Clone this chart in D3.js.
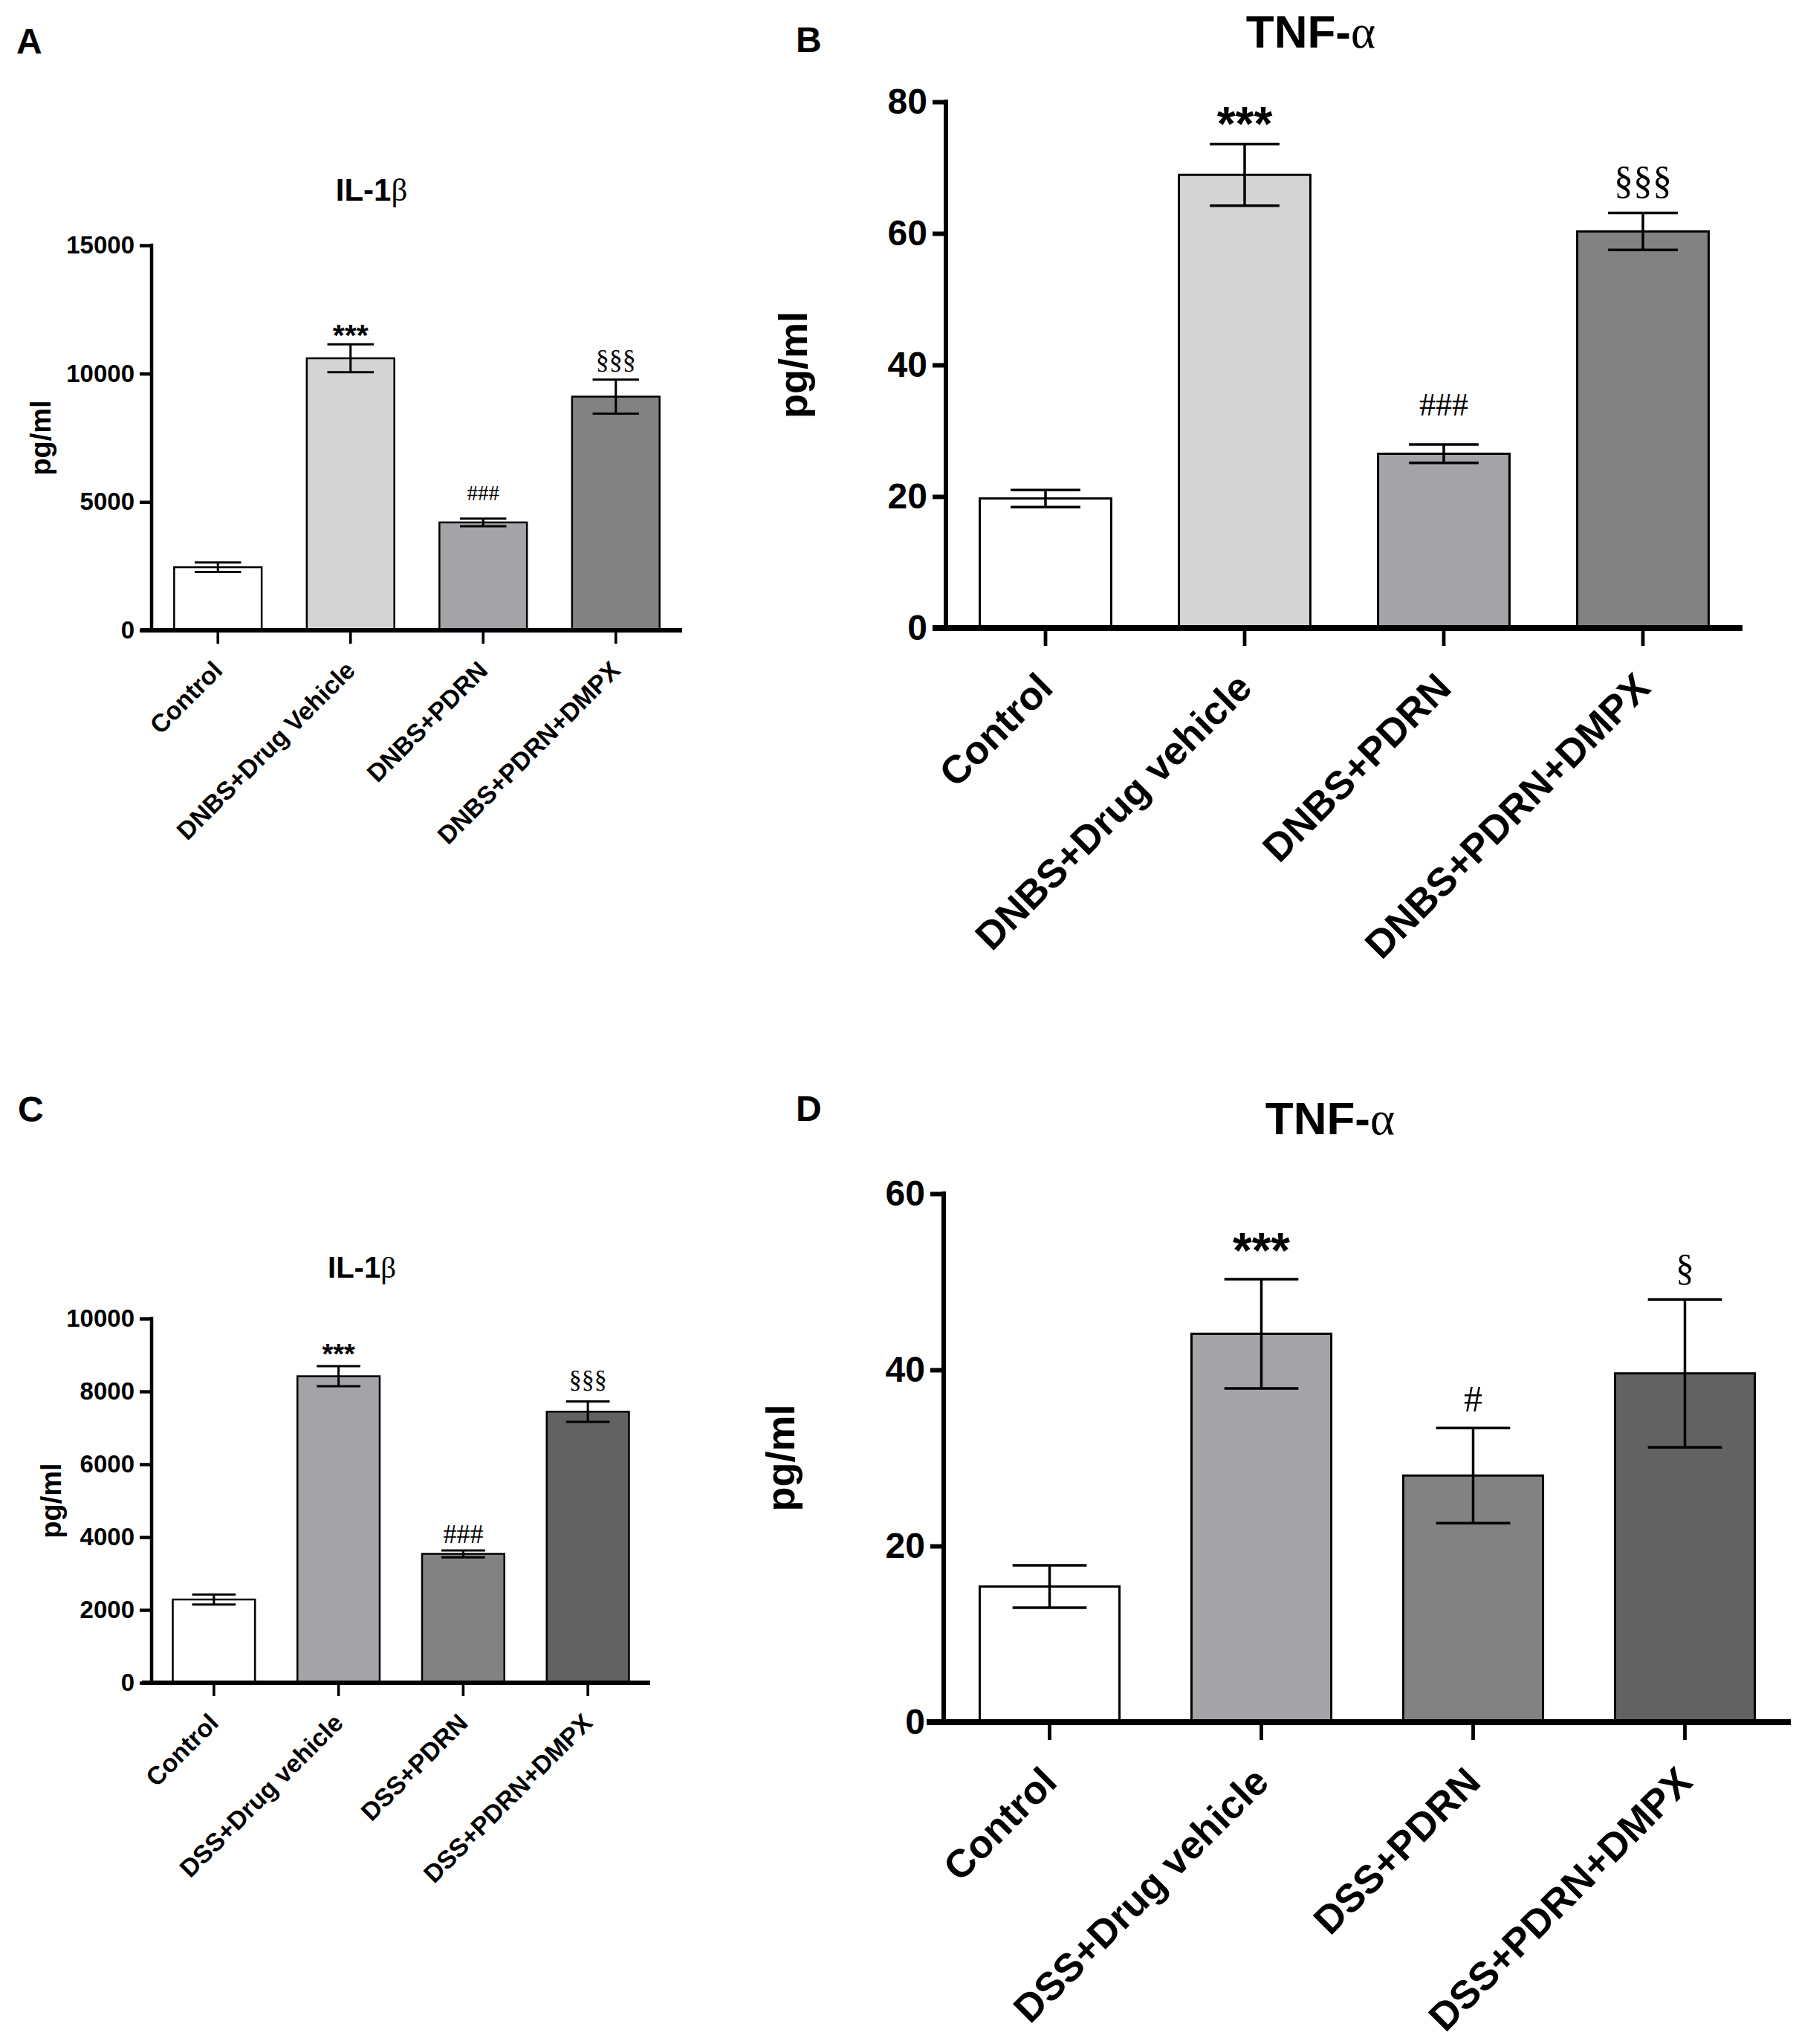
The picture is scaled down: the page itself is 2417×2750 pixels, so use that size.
<!DOCTYPE html>
<html>
<head>
<meta charset="utf-8">
<script src="https://cdn.jsdelivr.net/npm/d3@7"></script>
<style>
  html, body { margin: 0; padding: 0; background: #ffffff; }
  svg { display: block; }
</style>
</head>
<body>
<script>
// ---------------- DATA ----------------
const categoriesA = ["Control", "DNBS+Drug Vehicle", "DNBS+PDRN", "DNBS+PDRN+DMPX"];
const categoriesB = ["Control", "DNBS+Drug vehicle", "DNBS+PDRN", "DNBS+PDRN+DMPX"];
const categoriesC = ["Control", "DSS+Drug vehicle", "DSS+PDRN", "DSS+PDRN+DMPX"];
const categoriesD = ["Control", "DSS+Drug vehicle", "DSS+PDRN", "DSS+PDRN+DMPX"];

const il1bDNBS = [2458, 10598, 4203, 9103];
const il1bDNBSErr = [183, 540, 150, 664];
const tnfDNBS = [19.7, 68.9, 26.5, 60.3];
const tnfDNBSErr = [1.3, 4.7, 1.4, 2.8];
const il1bDSS = [2286, 8417, 3540, 7444];
const il1bDSSErr = [140, 275, 95, 280];
const tnfDSS = [15.4, 44.1, 28.0, 39.6];
const tnfDSSErr = [2.4, 6.2, 5.4, 8.4];

const ticksA = [0, 5000, 10000, 15000];
const ticksB = [0, 20, 40, 60, 80];
const ticksC = [0, 2000, 4000, 6000, 8000, 10000];
const ticksD = [0, 20, 40, 60];

const sigA = ["", "***", "###", "§§§"];
const sigB = ["", "***", "###", "§§§"];
const sigC = ["", "***", "###", "§§§"];
const sigD = ["", "***", "#", "§"];

const fillsDNBS = ["#ffffff", "#d4d4d4", "#a4a4a8", "#828282"];
const fillsDSS = ["#ffffff", "#a4a4a8", "#828282", "#626262"];

// ---------------- LAYOUT / STYLE ----------------
const W = 2417, H = 2750;
const SANS = "'Liberation Sans', Arial, Helvetica, sans-serif";
const SERIF = "'Liberation Serif', 'Times New Roman', serif";

const svg = d3.select("body").append("svg")
  .attr("width", W).attr("height", H)
  .attr("viewBox", `0 0 ${W} ${H}`);
svg.append("rect").attr("width", W).attr("height", H).attr("fill", "#fff");

const panels = [
  { letter: "A", letterPos: [22, 72], letterSize: 48,
    title: ["IL-1", "β"], titlePos: [500, 270], titleSize: 42,
    cats: categoriesA, vals: il1bDNBS, errs: il1bDNBSErr, ticks: ticksA, max: 15000,
    sig: sigA, fills: fillsDNBS,
    x0: 204, x1: 918, yTop: 330, yZero: 848,
    tickFont: 33, labelFont: 34, ylabFont: 38, ylabX: 68,
    axisW: 4.5, barW: 2.5, errW: 3, yTick: 16, xTick: 18, xExt: 15,
    sigStyle: { star: [41, 16], hash: [29, 25], sect: [36, 11] } },
  { letter: "B", letterPos: [1071, 70], letterSize: 48,
    title: ["TNF-", "α"], titlePos: [1764, 64], titleSize: 62,
    cats: categoriesB, vals: tnfDNBS, errs: tnfDNBSErr, ticks: ticksB, max: 80,
    sig: sigB, fills: fillsDNBS,
    x0: 1273, x1: 2345, yTop: 137, yZero: 845,
    tickFont: 48, labelFont: 53, ylabFont: 54, ylabX: 1086,
    axisW: 6, barW: 3, errW: 3.5, yTick: 18, xTick: 24, xExt: 18,
    sigStyle: { star: [64, 32], hash: [44, 39], sect: [52, 20] } },
  { letter: "C", letterPos: [24, 1509], letterSize: 48,
    title: ["IL-1", "β"], titlePos: [487, 1719], titleSize: 40,
    cats: categoriesC, vals: il1bDSS, errs: il1bDSSErr, ticks: ticksC, max: 10000,
    sig: sigC, fills: fillsDSS,
    x0: 204, x1: 875, yTop: 1774, yZero: 2264,
    tickFont: 33, labelFont: 34, ylabFont: 38, ylabX: 82,
    axisW: 4.5, barW: 2.5, errW: 3, yTick: 16, xTick: 18, xExt: 13,
    sigStyle: { star: [38, 19], hash: [36, 10], sect: [34, 14] } },
  { letter: "D", letterPos: [1071, 1508], letterSize: 48,
    title: ["TNF-", "α"], titlePos: [1790, 1526], titleSize: 62,
    cats: categoriesD, vals: tnfDSS, errs: tnfDSSErr, ticks: ticksD, max: 60,
    sig: sigD, fills: fillsDSS,
    x0: 1270, x1: 2410, yTop: 1606, yZero: 2317,
    tickFont: 48, labelFont: 53, ylabFont: 54, ylabX: 1069,
    axisW: 6, barW: 3, errW: 3.5, yTick: 18, xTick: 24, xExt: 23,
    sigStyle: { star: [66, 44], hash: [50, 22], sect: [50, 19] } }
];

panels.forEach(p => {
  const g = svg.append("g");

  // scales
  const x = d3.scaleBand().domain(p.cats).range([p.x0, p.x1])
    .paddingInner(0.34).paddingOuter(0.17);
  const y = d3.scaleLinear().domain([0, p.max]).range([p.yZero, p.yTop]);

  // panel letter
  g.append("text").attr("x", p.letterPos[0]).attr("y", p.letterPos[1])
    .attr("font-family", SANS).attr("font-weight", "bold")
    .attr("font-size", p.letterSize).text(p.letter);

  // title
  const t = g.append("text").attr("x", p.titlePos[0]).attr("y", p.titlePos[1])
    .attr("text-anchor", "middle").attr("font-family", SANS)
    .attr("font-weight", "bold").attr("font-size", p.titleSize);
  t.append("tspan").text(p.title[0]);
  t.append("tspan").attr("font-family", SERIF).attr("font-weight", "normal")
    .attr("font-size", p.titleSize * 1.02).text(p.title[1]);

  // bars
  const data = p.cats.map((c, i) => ({ c, v: p.vals[i], e: p.errs[i], s: p.sig[i], f: p.fills[i] }));
  g.selectAll("rect.bar").data(data).join("rect").attr("class", "bar")
    .attr("x", d => x(d.c)).attr("width", x.bandwidth())
    .attr("y", d => y(d.v)).attr("height", d => y(0) - y(d.v))
    .attr("fill", d => d.f).attr("stroke", "#000").attr("stroke-width", p.barW);

  // error bars
  const capW = x.bandwidth() * 0.53;
  const eb = g.selectAll("g.err").data(data).join("g").attr("class", "err")
    .attr("stroke", "#000").attr("stroke-width", p.errW);
  eb.append("line")
    .attr("x1", d => x(d.c) + x.bandwidth() / 2).attr("x2", d => x(d.c) + x.bandwidth() / 2)
    .attr("y1", d => y(d.v - d.e)).attr("y2", d => y(d.v + d.e));
  eb.append("line")
    .attr("x1", d => x(d.c) + x.bandwidth() / 2 - capW / 2).attr("x2", d => x(d.c) + x.bandwidth() / 2 + capW / 2)
    .attr("y1", d => y(d.v + d.e)).attr("y2", d => y(d.v + d.e));
  eb.append("line")
    .attr("x1", d => x(d.c) + x.bandwidth() / 2 - capW / 2).attr("x2", d => x(d.c) + x.bandwidth() / 2 + capW / 2)
    .attr("y1", d => y(d.v - d.e)).attr("y2", d => y(d.v - d.e));

  // significance marks
  g.selectAll("text.sig").data(data.filter(d => d.s)).join("text").attr("class", "sig")
    .each(function (d) {
      const sel = d3.select(this);
      const ch = d.s[0];
      let st, fam, weight, bottomAdj;
      if (ch === "*") { st = p.sigStyle.star; fam = SANS; weight = "bold"; bottomAdj = 0.43; }
      else if (ch === "#") { st = p.sigStyle.hash; fam = SERIF; weight = "normal"; bottomAdj = 0.0; }
      else { st = p.sigStyle.sect; fam = SERIF; weight = "normal"; bottomAdj = -0.13; }
      const fs = st[0];
      const visBottom = y(d.v + d.e) - st[1];
      sel.attr("x", x(d.c) + x.bandwidth() / 2)
        .attr("y", visBottom + bottomAdj * fs)
        .attr("text-anchor", "middle").attr("font-family", fam)
        .attr("font-weight", weight).attr("font-size", fs).text(d.s);
    });

  // y axis
  const yAxis = d3.axisLeft(y).tickValues(p.ticks).tickSize(p.yTick).tickPadding(7)
    .tickFormat(d3.format("d"));
  const ya = g.append("g").attr("transform", `translate(${p.x0},0)`).call(yAxis);
  ya.select(".domain").remove();
  ya.selectAll(".tick line").attr("stroke", "#000").attr("stroke-width", p.axisW);
  ya.selectAll(".tick text").attr("font-family", SANS).attr("font-weight", "bold")
    .attr("font-size", p.tickFont).attr("fill", "#000");
  g.append("line").attr("x1", p.x0).attr("x2", p.x0)
    .attr("y1", p.yTop - p.axisW / 2).attr("y2", p.yZero)
    .attr("stroke", "#000").attr("stroke-width", p.axisW);

  // x axis
  const xAxis = d3.axisBottom(x).tickSize(p.xTick).tickFormat("");
  const xa = g.append("g").attr("transform", `translate(0,${p.yZero})`).call(xAxis);
  xa.select(".domain").remove();
  xa.selectAll(".tick line").attr("stroke", "#000").attr("stroke-width", p.axisW * 0.8);
  g.append("line").attr("x1", p.x0 - p.xExt).attr("x2", p.x1)
    .attr("y1", p.yZero).attr("y2", p.yZero)
    .attr("stroke", "#000").attr("stroke-width", p.axisW * 1.3);

  // x category labels (rotated 45°)
  const lf = p.labelFont;
  g.selectAll("text.xlab").data(p.cats).join("text").attr("class", "xlab")
    .attr("transform", d => `translate(${x(d) + x.bandwidth() / 2 + 0.24 * lf},${p.yZero + p.xTick + 1.12 * lf}) rotate(-45)`)
    .attr("text-anchor", "end").attr("font-family", SANS).attr("font-weight", "bold")
    .attr("font-size", lf).text(d => d);

  // y axis title
  g.append("text")
    .attr("transform", `translate(${p.ylabX},${(p.yTop + p.yZero) / 2}) rotate(-90)`)
    .attr("text-anchor", "middle").attr("font-family", SANS).attr("font-weight", "bold")
    .attr("font-size", p.ylabFont).text("pg/ml");
});
</script>
</body>
</html>
